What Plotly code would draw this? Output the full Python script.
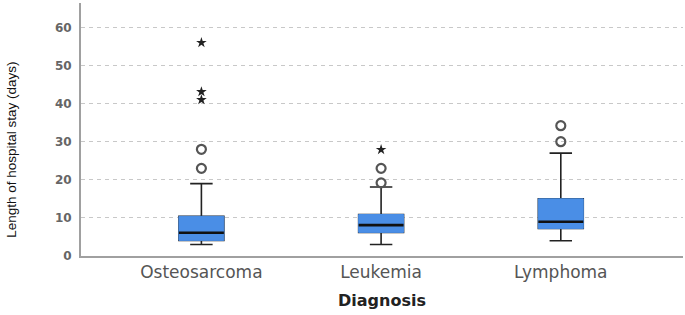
import plotly.graph_objects as go

categories = ["Osteosarcoma", "Leukemia", "Lymphoma"]
q1 = [4.1, 6.2, 7.2]
median = [6.1, 8.1, 9.0]
q3 = [10.4, 10.9, 15.0]
lower_whisker = [3.0, 3.0, 4.0]
upper_whisker = [19.0, 18.1, 27.0]

circle_x = ["Osteosarcoma", "Osteosarcoma", "Leukemia", "Leukemia", "Lymphoma", "Lymphoma"]
circle_y = [28.0, 23.0, 19.2, 23.0, 30.0, 34.2]
star_x = ["Osteosarcoma", "Osteosarcoma", "Osteosarcoma", "Leukemia"]
star_y = [56.0, 43.1, 41.0, 27.9]

y_ticks = [0, 10, 20, 30, 40, 50, 60]

BLUE = "#4a8ee6"
fig = go.Figure()

# whiskers (black)
fig.add_trace(go.Box(
    x=categories, q1=q1, median=median, q3=q3,
    lowerfence=lower_whisker, upperfence=upper_whisker,
    width=0.25, whiskerwidth=0.5, fillcolor="rgba(0,0,0,0)",
    line=dict(color="#222222", width=1.6), boxpoints=False, hoverinfo="skip",
))
# blue box
fig.add_trace(go.Box(
    x=categories, q1=q1, median=median, q3=q3,
    lowerfence=q1, upperfence=q3,
    width=0.25, whiskerwidth=0, fillcolor=BLUE,
    line=dict(color=BLUE, width=1), boxpoints=False,
))
# median line
fig.add_trace(go.Box(
    x=categories, q1=median, median=median, q3=median,
    lowerfence=median, upperfence=median,
    width=0.25, whiskerwidth=0, fillcolor="rgba(0,0,0,0)",
    line=dict(color="#111111", width=2.6), boxpoints=False,
))
fig.add_trace(go.Scatter(
    x=circle_x, y=circle_y, mode="markers",
    marker=dict(symbol="circle-open", size=9, color="#555555", line=dict(width=2.2, color="#555555")),
))
fig.add_trace(go.Scatter(
    x=star_x, y=star_y, mode="markers",
    marker=dict(symbol="star", size=8, color="#222222"),
))

fig.update_layout(
    width=685, height=315,
    margin=dict(l=81, r=2, t=3, b=59),
    paper_bgcolor="white", plot_bgcolor="white",
    showlegend=False, boxmode="overlay",
    font=dict(family="DejaVu Sans, sans-serif"),
    annotations=[dict(
        text="Length of hospital stay (days)", textangle=-90,
        xref="paper", yref="paper", x=-0.1146, y=0.42,
        xanchor="center", yanchor="middle", showarrow=False,
        font=dict(size=13.5, color="#111111", family="Liberation Sans, Arial, sans-serif"),
    )],
)
fig.update_xaxes(
    categoryorder="array", categoryarray=categories,
    range=[-0.67, 2.68], automargin=False,
    showline=True, linecolor="#a0a0a0", linewidth=2,
    showgrid=False, ticks="",
    tickfont=dict(size=17, color="#555555", family="DejaVu Sans, sans-serif"),
    title=dict(text="<b>Diagnosis</b>", font=dict(size=16, color="#222222", family="DejaVu Sans, sans-serif"), standoff=13),
)
fig.update_yaxes(
    range=[0, 66.4], tickvals=y_ticks, ticktext=["<b>%d</b>" % v for v in y_ticks],
    automargin=False, ticklabelstandoff=5,
    showline=True, linecolor="#a0a0a0", linewidth=2,
    showgrid=True, gridcolor="#c8c8c8", griddash="4px,4px", gridwidth=1,
    zeroline=False, ticks="",
    tickfont=dict(size=12, color="#666666", family="DejaVu Sans, sans-serif"),
)
fig.write_html("out.html", config={"displayModeBar": False},
               post_script="document.body.style.margin='0';")
